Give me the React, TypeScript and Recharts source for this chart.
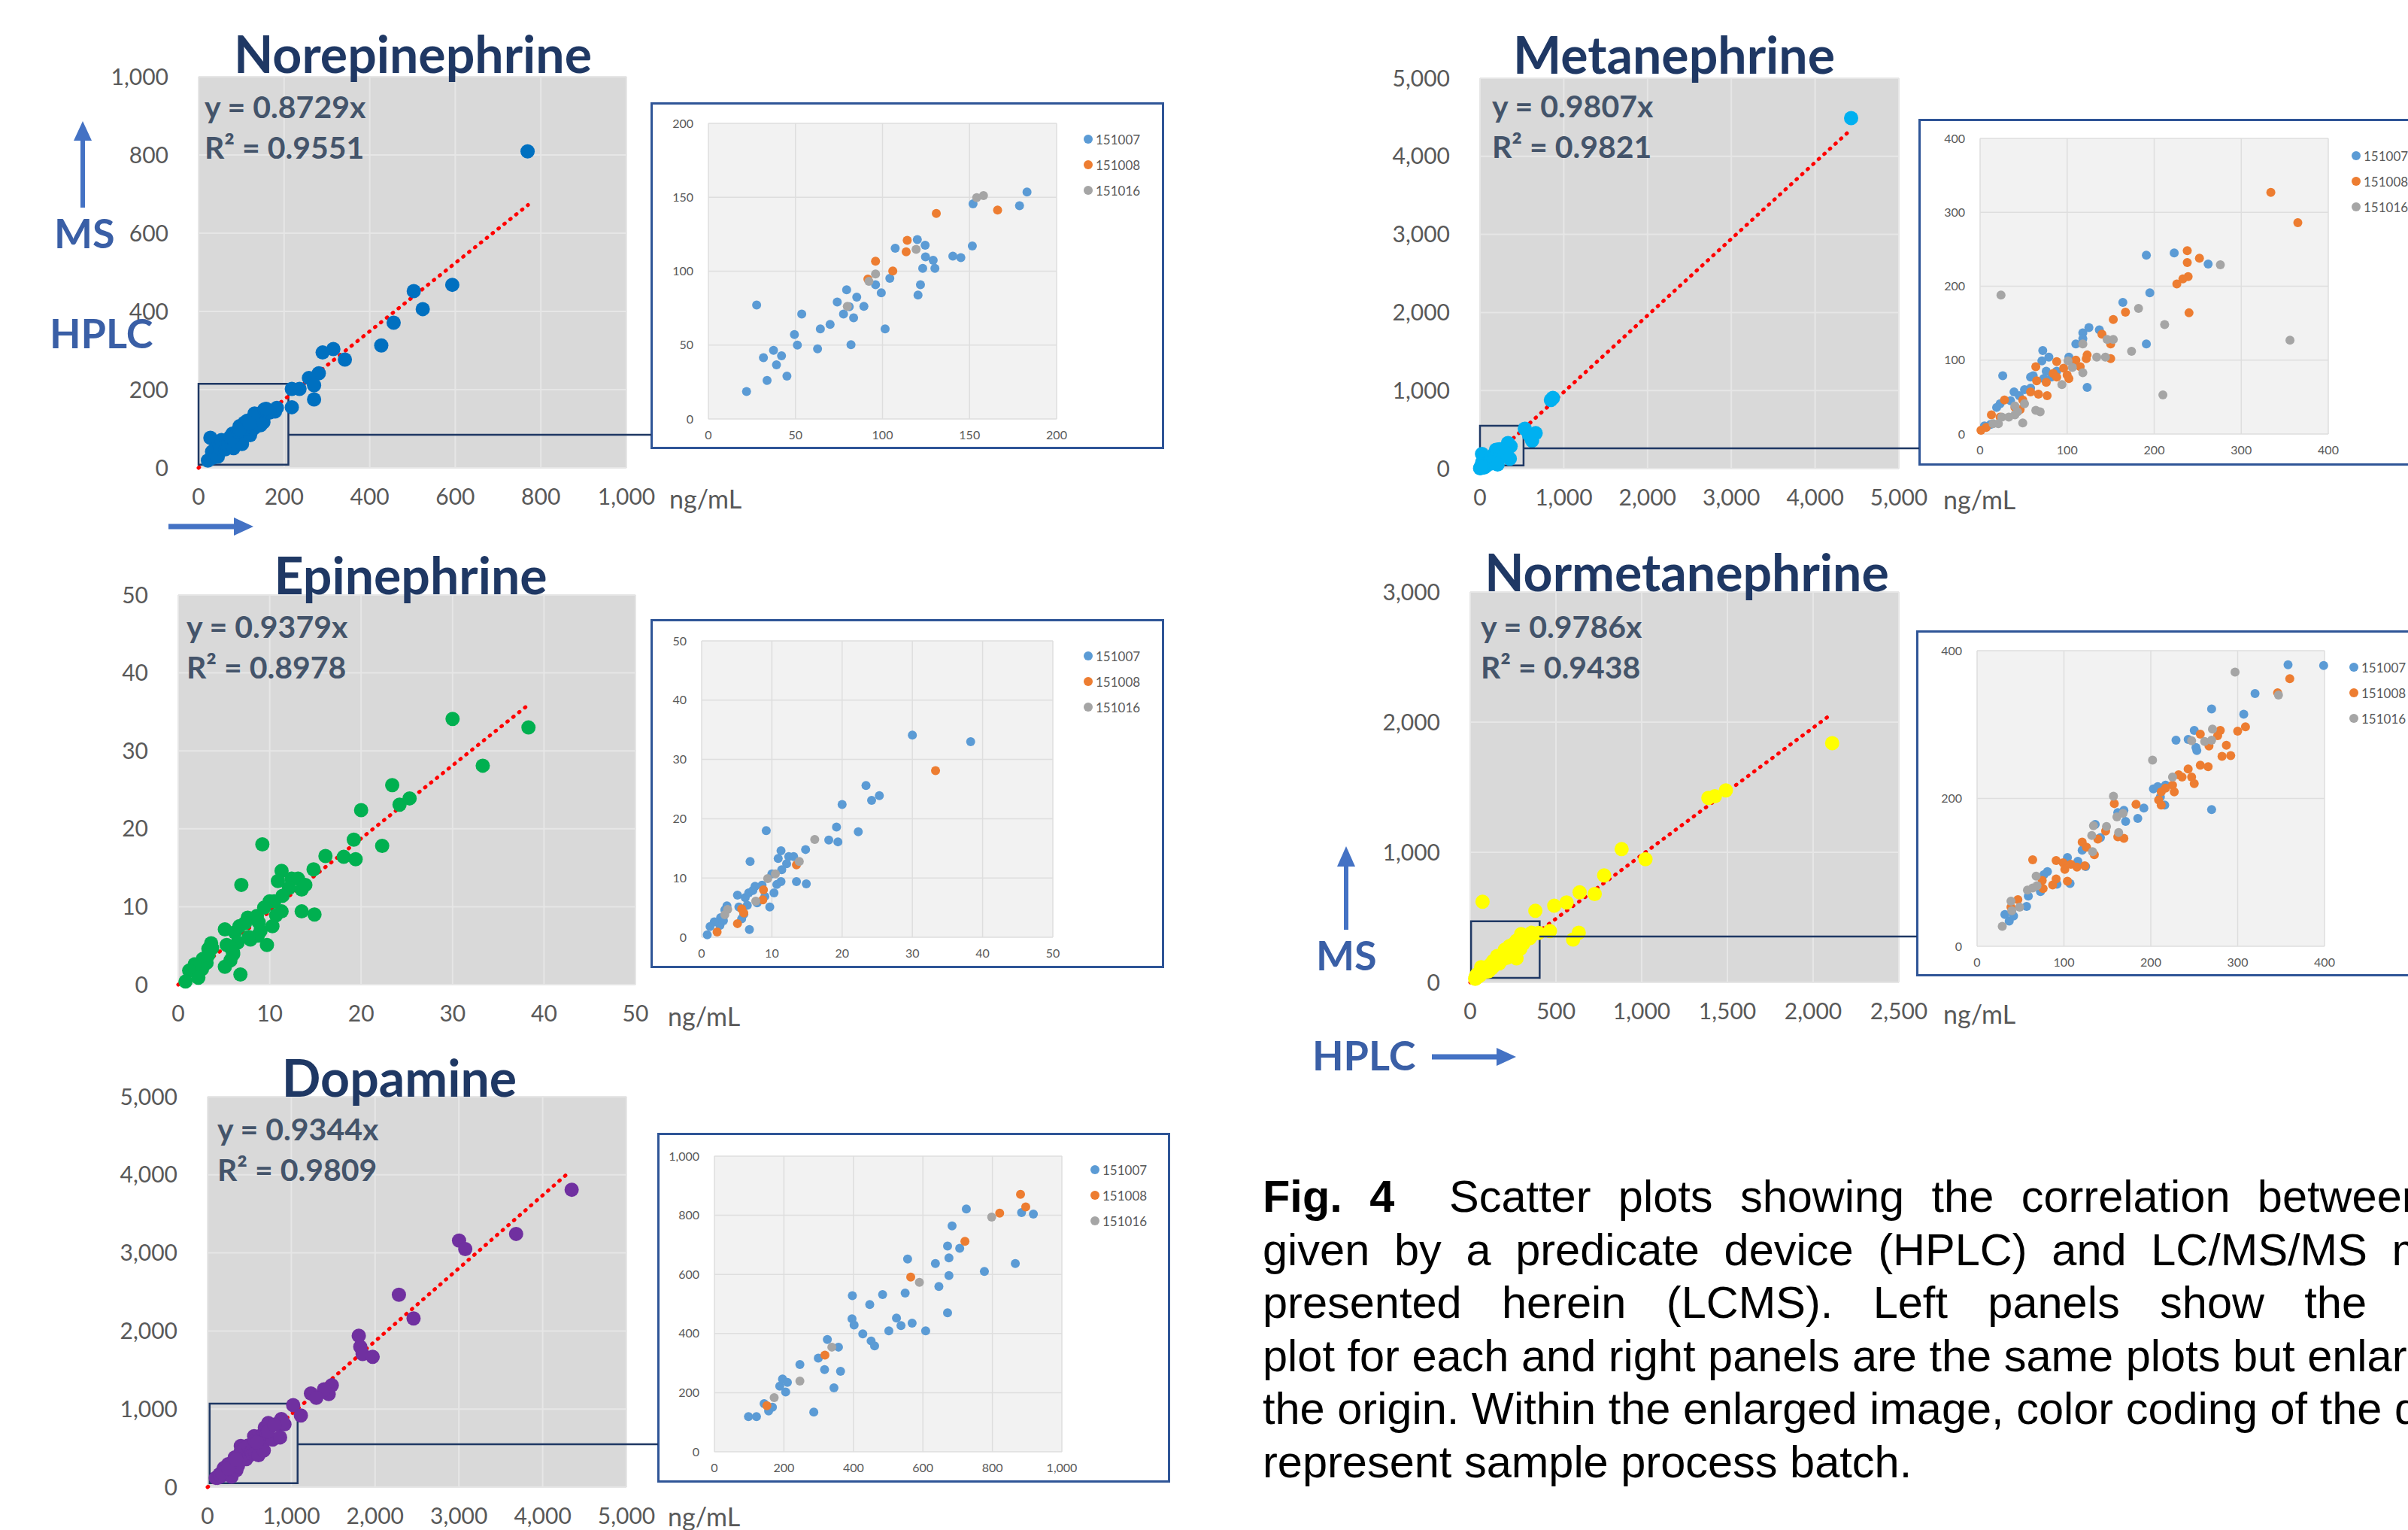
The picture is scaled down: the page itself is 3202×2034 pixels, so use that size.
import React from 'react'
import {
  ScatterChart,
  Scatter,
  XAxis,
  YAxis,
  CartesianGrid,
  ReferenceLine,
  ReferenceArea,
} from 'recharts'

type P = [number, number]

/* ───── data: batches 151007 / 151008 / 151016, [HPLC, MS] ───── */
const BATCHES = ['151007', '151008', '151016']

const NE_B07: P[] = [[21.9,18.6],[27.7,77.1],[31.6,41.5],[33.7,26.1],[37.4,46.4],[39.1,36.7],[42,42.7],[45.1,29],[49.4,57.1],[51.1,50],[53.6,71],[62.7,47.4],[64.3,61],[69.9,64],[74,79.1],[77.6,71],[79.4,87.4],[80.9,76],[81.9,50.3],[83.4,68.4],[85.2,82.5],[89.3,76.2],[96,90.8],[99.3,85.4],[101.5,61],[104.2,95.2],[107.3,115.5],[120,121.4],[120.4,83.8],[121.8,90.8],[123.1,101.9],[124.5,117.5],[124.7,109.7],[129.1,107.4],[130.1,101.9],[140.4,110.2],[145,109.2],[151.6,117],[152,145.6],[178.7,144.3],[183,153.6]]
const NE_B08: P[] = [[91.6,94.7],[96,106.7],[105.9,100.1],[113.6,113.1],[114.2,120.9],[130.9,139],[166.1,141.4]]
const NE_B16: P[] = [[79.8,76.2],[92.2,93.1],[96,98.1],[119.3,114.8],[154.1,149.7],[158,151.2]]
const NE_HIGH: P[] = [[769,809],[593,468],[503,452],[524,406],[456,371],[427,313],[342,277],[315,304],[290,295],[281,242],[258,230],[270,211],[270,175],[218,202],[236,202],[218,155]]

const EPI_B07: P[] = [[30,34.1],[38.3,33],[23.4,25.6],[24.2,23.1],[25.3,23.9],[20,22.4],[9.2,18],[19.2,18.6],[22.3,17.8],[18.1,16.4],[19.4,16.1],[14.8,14.8],[11.3,14.6],[6.9,12.8],[10.9,13.3],[12.4,13.6],[13.1,13.6],[12.1,12.4],[11.4,11.4],[10,10.7],[13.5,9.4],[14.9,9],[11.3,9.4],[10.7,8.9],[10.3,7.5],[9.7,5.1],[9,6.9],[8.6,8.8],[7.6,8.6],[7.9,5.8],[5.1,7.1],[6.2,6.7],[6.7,7.5],[6.5,5.4],[5.3,5.1],[6,3.9],[5.7,3.1],[6.8,1.3],[3.6,5.3],[3.3,4.6],[2.7,3.3],[3.1,2.8],[2.6,2],[1.8,2.6],[1.2,1.8],[0.8,0.4],[7.3,7.9]]
const EPI_B08: P[] = [[33.3,28.1],[13.5,12.2],[8.8,8],[8.7,6.3],[5.7,4.8],[6,4.1],[5.1,2.3],[2.2,0.9]]
const EPI_B16: P[] = [[16.1,16.5],[13.9,12.8],[10.5,10.7],[9.4,9.9],[7.7,6.1],[3.7,4.7],[3.3,3.8]]

const DA_B07: P[] = [[98,119],[121,119],[156,138],[143,163],[167,151],[205,202],[188,222],[196,246],[210,235],[246,295],[286,134],[299,317],[317,278],[325,380],[357,354],[344,216],[363,272],[397,528],[396,450],[402,429],[427,399],[447,498],[451,375],[461,358],[484,532],[502,409],[524,452],[537,427],[549,537],[556,652],[569,435],[608,409],[636,637],[646,559],[671,696],[675,656],[675,596],[671,470],[684,764],[706,688],[725,821],[777,610],[866,637],[884,809],[918,804]]
const DA_B08: P[] = [[151,156],[318,327],[565,591],[721,712],[821,807],[881,871],[896,828]]
const DA_B16: P[] = [[172,183],[246,239],[338,354],[590,573],[798,794]]
const DA_HIGH: P[] = [[4346,3809],[3683,3243],[3002,3158],[3076,3049],[2284,2464],[2459,2161],[1805,1939],[1823,1797],[1851,1704],[1971,1668],[1483,1305],[1446,1191],[1390,1252],[1234,1200],[1298,1143],[1022,1050],[1114,917]]

const MN_B07: P[] = [[191,242],[223,245],[262,230],[195,191],[164,178],[125,144],[137,141],[118,137],[118,129],[110,122],[191,122],[123,63],[26,79],[72,113],[71,99],[79,104],[102,104],[109,99],[76,85],[82,77],[58,77],[61,79],[73,75],[39,57],[51,60],[45,52],[35,45],[23,41],[19,36],[12,13],[5,11],[88,85],[58,62]]
const MN_B08: P[] = [[334,327],[365,286],[238,248],[252,238],[238,232],[239,213],[233,210],[226,203],[240,164],[167,165],[153,155],[140,135],[150,122],[150,102],[123,107],[122,102],[110,100],[115,91],[88,98],[64,91],[65,72],[76,70],[84,82],[88,77],[77,52],[96,89],[100,80],[102,75],[58,57],[67,54],[49,46],[28,46],[46,33],[13,26],[23,23],[7,9],[1,5],[40,36]]
const MN_B16: P[] = [[24,188],[182,170],[276,229],[212,148],[146,128],[153,128],[174,112],[134,104],[144,104],[118,122],[101,99],[106,90],[118,83],[94,67],[210,53],[356,127],[51,41],[40,38],[43,30],[40,26],[64,32],[69,30],[49,15],[25,23],[33,23],[21,14],[15,14]]
const MN_HIGH: P[] = [[4430,4490],[846,878],[870,905],[665,454],[622,359],[585,433],[535,510]]

const NMN_B07: P[] = [[358,381],[399,380],[320,342],[270,321],[307,314],[250,292],[229,279],[243,280],[252,269],[253,265],[270,185],[203,213],[208,216],[217,218],[211,202],[216,191],[192,187],[185,173],[169,184],[171,169],[162,181],[136,165],[142,147],[121,130],[125,108],[116,115],[104,120],[81,101],[77,97],[92,84],[107,85],[73,74],[59,68],[57,54],[32,43],[37,34],[42,41]]
const NMN_B08: P[] = [[360,362],[346,343],[309,297],[300,291],[280,292],[277,285],[287,272],[267,271],[282,257],[292,258],[257,287],[257,245],[266,243],[243,240],[232,232],[236,229],[247,229],[250,220],[225,218],[227,209],[217,214],[212,209],[209,198],[212,191],[183,192],[158,193],[162,148],[169,146],[139,145],[148,156],[121,141],[126,134],[135,124],[91,116],[99,113],[101,104],[108,111],[115,107],[124,109],[64,117],[91,91],[104,88],[87,83],[75,89],[76,78],[47,63],[39,53]]
const NMN_B16: P[] = [[297,371],[347,340],[271,294],[262,277],[270,279],[247,278],[202,252],[225,229],[157,203],[161,175],[168,180],[134,163],[149,162],[132,150],[163,154],[133,128],[68,95],[58,76],[69,82],[64,79],[39,61],[40,48],[49,53],[29,27]]
const NMN_HIGH: P[] = [[2111,1838],[1491,1475],[1427,1431],[1389,1418],[883,1024],[1022,946],[781,822],[726,679],[638,692],[562,614],[490,589],[380,550],[465,394],[633,381],[600,329],[72,620]]

/* ticks */
const NE_TICKS = [0, 200, 400, 600, 800, 1000]
const EPI_TICKS = [0, 10, 20, 30, 40, 50]
const BIG_TICKS = [0, 1000, 2000, 3000, 4000, 5000]
const NMN_X_TICKS = [0, 500, 1000, 1500, 2000, 2500]
const NMN_Y_TICKS = [0, 1000, 2000, 3000]
const NE_IN_TICKS = [0, 50, 100, 150, 200]
const DA_IN_TICKS = [0, 200, 400, 600, 800, 1000]
const M_IN_TICKS = [0, 100, 200, 300, 400]
const NMN_IN_Y_TICKS = [0, 200, 400]

/* regression lines [slope, last HPLC value] and zoom boxes [x1, x2, y1, y2] */
const NE_FIT = [0.8729, 770]
const EPI_FIT = [0.9379, 38]
const DA_FIT = [0.9344, 4300]
const MN_FIT = [0.9807, 4400]
const NMN_FIT = [0.9786, 2090]
const NE_BOX = [0, 210, 8, 215]
const DA_BOX = [25, 1075, 50, 1070]
const MN_BOX = [0, 520, 40, 550]
const NMN_BOX = [5, 405, 35, 470]

const toXY = (a: P[]) => a.map(([x, y]) => ({ x, y }))
const fmt = (n: number) => n.toLocaleString('en-US')

const BATCH_COLORS = ['#5b9bd5', '#ed7d31', '#a5a5a5']
const NAVY = '#1f3864'
const ARROW = '#4472c4'
const TICK_GRAY = '#595959'
const FONT = 'Lato, "Open Sans", sans-serif'

const dot = (fill: string, r: number) => (p: any) =>
  p.cx == null ? <g /> : <circle cx={p.cx} cy={p.cy} r={r} fill={fill} />

type Box = { x: number; y: number; w: number; h: number }

function MainChart({
  plot, pts, color, xTicks, yTicks, fit, zoom,
}: {
  plot: Box; pts: P[]; color: string; xTicks: number[]; yTicks: number[]; fit: number[]; zoom?: number[]
}) {
  const YW = 150, XH = 80, T = 30, R = 70
  const [slope, end] = fit
  return (
    <div style={{ position: 'absolute', left: plot.x - YW, top: plot.y - T }}>
      <ScatterChart width={YW + plot.w + R} height={T + plot.h + XH} margin={{ top: T, right: R, left: 0, bottom: 0 }}>
        <CartesianGrid fill="#d9d9d9" stroke="#e6e6e6" strokeWidth={2} />
        <XAxis
          type="number" dataKey="x" domain={[0, xTicks[xTicks.length - 1]]} ticks={xTicks} interval={0}
          tickFormatter={fmt} axisLine={false} tickLine={false} tickSize={0} tickMargin={28} height={XH}
          tick={{ fill: TICK_GRAY, fontSize: 30, fontFamily: FONT }}
        />
        <YAxis
          type="number" dataKey="y" domain={[0, yTicks[yTicks.length - 1]]} ticks={yTicks} interval={0}
          tickFormatter={fmt} axisLine={false} tickLine={false} tickSize={0} tickMargin={40} width={YW}
          tick={{ fill: TICK_GRAY, fontSize: 30, fontFamily: FONT }}
        />
        <Scatter data={toXY(pts)} isAnimationActive={false} shape={dot(color, 9.5)} />
        {zoom && (
          <ReferenceArea
            x1={zoom[0]} x2={zoom[1]} y1={zoom[2]} y2={zoom[3]}
            fill="none" fillOpacity={0} stroke={NAVY} strokeWidth={2.5} ifOverflow="visible"
          />
        )}
        <ReferenceLine
          segment={[{ x: 0, y: 0 }, { x: end, y: slope * end }]}
          stroke="#ff0000" strokeWidth={5} strokeDasharray="1 9" strokeLinecap="round"
        />
      </ScatterChart>
    </div>
  )
}

function InsetChart({
  frame, plot, series, xTicks, yTicks,
}: {
  frame: Box; plot: Box; series: P[][]; xTicks: number[]; yTicks: number[]
}) {
  const YW = 70, XH = 45, T = 15, R = 30
  return (
    <>
      <div
        style={{
          position: 'absolute', left: frame.x, top: frame.y, width: frame.w, height: frame.h,
          border: '3px solid #2f5597', boxSizing: 'border-box', background: '#fff',
        }}
      />
      <div style={{ position: 'absolute', left: plot.x - YW, top: plot.y - T }}>
        <ScatterChart width={YW + plot.w + R} height={T + plot.h + XH} margin={{ top: T, right: R, left: 0, bottom: 0 }}>
          <CartesianGrid fill="#f2f2f2" stroke="#dedede" strokeWidth={1.5} />
          <XAxis
            type="number" dataKey="x" domain={[0, xTicks[xTicks.length - 1]]} ticks={xTicks} interval={0}
            tickFormatter={fmt} axisLine={false} tickLine={false} tickSize={0} tickMargin={16} height={XH}
            tick={{ fill: TICK_GRAY, fontSize: 16, fontFamily: FONT }}
          />
          <YAxis
            type="number" dataKey="y" domain={[0, yTicks[yTicks.length - 1]]} ticks={yTicks} interval={0}
            tickFormatter={fmt} axisLine={false} tickLine={false} tickSize={0} tickMargin={20} width={YW}
            tick={{ fill: TICK_GRAY, fontSize: 16, fontFamily: FONT }}
          />
          {series.map((s, i) => (
            <Scatter key={BATCHES[i]} name={BATCHES[i]} data={toXY(s)} isAnimationActive={false} shape={dot(BATCH_COLORS[i], 6)} />
          ))}
        </ScatterChart>
      </div>
      <div style={{ position: 'absolute', left: frame.x + 576, top: frame.y + 32, fontFamily: FONT }}>
        {BATCHES.map((b, i) => (
          <div key={b} style={{ display: 'flex', alignItems: 'center', height: 34 }}>
            <span style={{ width: 12, height: 12, borderRadius: '50%', background: BATCH_COLORS[i], marginRight: 4 }} />
            <span style={{ fontSize: 17, color: TICK_GRAY }}>{b}</span>
          </div>
        ))}
      </div>
    </>
  )
}

function Labels({
  title, tx, ty, eq, r2, ex, ey, ux, uy,
}: { title: string; tx: number; ty: number; eq: string; r2: string; ex: number; ey: number; ux: number; uy: number }) {
  const eqStyle: React.CSSProperties = {
    position: 'absolute', left: ex, fontFamily: FONT, fontWeight: 700, fontSize: 41, color: '#44546a',
    lineHeight: 1, whiteSpace: 'nowrap', transform: 'translateY(-50%)',
  }
  return (
    <>
      <div
        style={{
          position: 'absolute', left: tx, top: ty, transform: 'translate(-50%, -50%)', fontFamily: FONT,
          fontWeight: 700, fontSize: 68, color: NAVY, lineHeight: 1, whiteSpace: 'nowrap',
        }}
      >
        {title}
      </div>
      <div style={{ ...eqStyle, top: ey }}>{eq}</div>
      <div style={{ ...eqStyle, top: ey + 54 }}>{r2}</div>
      <div
        style={{
          position: 'absolute', left: ux, top: uy, transform: 'translateY(-50%)', fontFamily: FONT,
          fontSize: 34, color: TICK_GRAY, lineHeight: 1, whiteSpace: 'nowrap',
        }}
      >
        ng/mL
      </div>
    </>
  )
}

const axisWord = (text: string, x: number, y: number) => (
  <div
    style={{
      position: 'absolute', left: x, top: y, transform: 'translateY(-50%)', fontFamily: FONT, fontWeight: 700,
      fontSize: 54, color: '#3a5fa6', lineHeight: 1, whiteSpace: 'nowrap',
    }}
  >
    {text}
  </div>
)

const CAPTION = [
  'Scatter plots showing the correlation between data',
  'given by a predicate device (HPLC) and LC/MS/MS method',
  'presented herein (LCMS). Left panels show the scatter',
  'plot for each and right panels are the same plots but enlarged near',
  'the origin. Within the enlarged image, color coding of the data',
  'represent sample process batch.',
]

export default function App() {
  return (
    <div style={{ position: 'relative', width: 3202, height: 2034, overflow: 'hidden', background: '#fff' }}>
      <style>{'body{margin:0}'}</style>

      {/* left column */}
      <MainChart plot={{ x: 264, y: 102, w: 569, h: 520 }} pts={[...NE_B07, ...NE_B08, ...NE_B16, ...NE_HIGH]}
        color="#0070c0" xTicks={NE_TICKS} yTicks={NE_TICKS} fit={NE_FIT} zoom={NE_BOX} />
      <Labels title="Norepinephrine" tx={549} ty={71} eq="y = 0.8729x" r2="R² = 0.9551" ex={272} ey={141} ux={890} uy={663} />
      <InsetChart frame={{ x: 865, y: 136, w: 683, h: 461 }} plot={{ x: 942, y: 164, w: 463, h: 393 }}
        series={[NE_B07, NE_B08, NE_B16]} xTicks={NE_IN_TICKS} yTicks={NE_IN_TICKS} />

      <MainChart plot={{ x: 237, y: 791, w: 608, h: 518 }} pts={[...EPI_B07, ...EPI_B08, ...EPI_B16]}
        color="#00b050" xTicks={EPI_TICKS} yTicks={EPI_TICKS} fit={EPI_FIT} />
      <Labels title="Epinephrine" tx={546} ty={764} eq="y = 0.9379x" r2="R² = 0.8978" ex={248} ey={832} ux={888} uy={1351} />
      <InsetChart frame={{ x: 865, y: 823, w: 683, h: 464 }} plot={{ x: 933, y: 852, w: 467, h: 394 }}
        series={[EPI_B07, EPI_B08, EPI_B16]} xTicks={EPI_TICKS} yTicks={EPI_TICKS} />

      <MainChart plot={{ x: 276, y: 1458, w: 557, h: 519 }} pts={[...DA_B07, ...DA_B08, ...DA_B16, ...DA_HIGH]}
        color="#7030a0" xTicks={BIG_TICKS} yTicks={BIG_TICKS} fit={DA_FIT} zoom={DA_BOX} />
      <Labels title="Dopamine" tx={531} ty={1432} eq="y = 0.9344x" r2="R² = 0.9809" ex={289} ey={1500} ux={888} uy={2016} />
      <InsetChart frame={{ x: 874, y: 1506, w: 682, h: 465 }} plot={{ x: 950, y: 1537, w: 462, h: 393 }}
        series={[DA_B07, DA_B08, DA_B16]} xTicks={DA_IN_TICKS} yTicks={DA_IN_TICKS} />

      {/* right column */}
      <MainChart plot={{ x: 1968, y: 104, w: 557, h: 519 }} pts={[...MN_B07, ...MN_B08, ...MN_B16, ...MN_HIGH]}
        color="#00b0f0" xTicks={BIG_TICKS} yTicks={BIG_TICKS} fit={MN_FIT} zoom={MN_BOX} />
      <Labels title="Metanephrine" tx={2226} ty={72} eq="y = 0.9807x" r2="R² = 0.9821" ex={1984} ey={140} ux={2584} uy={664} />
      <InsetChart frame={{ x: 2551, y: 158, w: 690, h: 461 }} plot={{ x: 2633, y: 184, w: 463, h: 393 }}
        series={[MN_B07, MN_B08, MN_B16]} xTicks={M_IN_TICKS} yTicks={M_IN_TICKS} />

      <MainChart plot={{ x: 1955, y: 787, w: 570, h: 519 }} pts={[...NMN_B07, ...NMN_B08, ...NMN_B16, ...NMN_HIGH]}
        color="#ffff00" xTicks={NMN_X_TICKS} yTicks={NMN_Y_TICKS} fit={NMN_FIT} zoom={NMN_BOX} />
      <Labels title="Normetanephrine" tx={2243} ty={760} eq="y = 0.9786x" r2="R² = 0.9438" ex={1969} ey={832} ux={2584} uy={1348} />
      <InsetChart frame={{ x: 2548, y: 838, w: 690, h: 460 }} plot={{ x: 2629, y: 865, w: 462, h: 393 }}
        series={[NMN_B07, NMN_B08, NMN_B16]} xTicks={M_IN_TICKS} yTicks={NMN_IN_Y_TICKS} />

      {/* connectors and axis arrows */}
      <svg width={3202} height={2034} style={{ position: 'absolute', left: 0, top: 0, pointerEvents: 'none' }}>
        <g stroke={NAVY} strokeWidth={2.5}>
          <line x1={383} y1={578} x2={866} y2={578} />
          <line x1={396} y1={1920} x2={875} y2={1920} />
          <line x1={2026} y1={596} x2={2552} y2={596} />
          <line x1={2047} y1={1245} x2={2549} y2={1245} />
        </g>
        <g fill={ARROW} stroke={ARROW}>
          <line x1={110} y1={276} x2={110} y2={184} strokeWidth={6} />
          <polygon points="98,187 122,187 110,161" strokeWidth={0} />
          <line x1={224} y1={700} x2={314} y2={700} strokeWidth={7} />
          <polygon points="311,688 311,712 337,700" strokeWidth={0} />
          <line x1={1790} y1={1236} x2={1790} y2={1150} strokeWidth={6} />
          <polygon points="1778,1152 1802,1152 1790,1125" strokeWidth={0} />
          <line x1={1904} y1={1405} x2={1993} y2={1405} strokeWidth={7} />
          <polygon points="1990,1393 1990,1417 2016,1405" strokeWidth={0} />
        </g>
      </svg>
      {axisWord('MS', 72, 310)}
      {axisWord('HPLC', 66, 443)}
      {axisWord('MS', 1750, 1270)}
      {axisWord('HPLC', 1745, 1403)}

      {/* caption */}
      <div
        style={{
          position: 'absolute', left: 1679, top: 1556, width: 1700, fontFamily: '"Liberation Sans", Arial, sans-serif',
          fontSize: 59.5, lineHeight: '70.5px', color: '#000',
        }}
      >
        {CAPTION.map((line, i) => (
          <div
            key={i}
            style={{
              textAlign: i < 3 ? 'justify' : 'left',
              textAlignLast: i < 3 ? 'justify' : 'left',
              whiteSpace: i < 3 ? 'normal' : 'nowrap',
            }}
          >
            {i === 0 && <b>Fig. 4&nbsp; </b>}
            {line}
          </div>
        ))}
      </div>
    </div>
  )
}
